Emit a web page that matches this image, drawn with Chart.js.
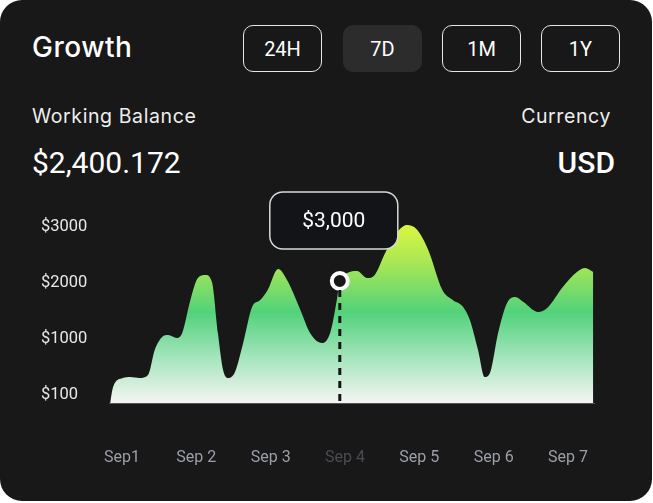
<!DOCTYPE html>
<html>
<head>
<meta charset="utf-8">
<script src="https://cdn.jsdelivr.net/npm/chart.js@4.4.0/dist/chart.umd.min.js"></script>
<style>
  body { margin: 0; background: #fff; width: 653px; height: 503px; overflow: hidden; }
  .card { position: absolute; left: 0; top: 0; width: 652px; height: 501px; background: #181818; border-radius: 22px; }
  .title { position: absolute; left: 32px; top: 30px; font: 500 28px Inter, sans-serif; color: #fff; letter-spacing: 0.5px; }
  .btn { position: absolute; top: 25px; width: 79px; height: 47px; border: 1.6px solid #e6e6e6; border-radius: 10px;
         color: #fff; font: 400 20px Roboto, sans-serif; display: flex; align-items: center; justify-content: center; box-sizing: border-box; }
  .btn.active { border-color: #2c2c2c; background: #2c2c2c; }
  .label { position: absolute; top: 104px; font: 400 19.5px Inter, sans-serif; color: #eee; letter-spacing: 0.6px; }
  .big { position: absolute; top: 145px; font: 400 30px Roboto, sans-serif; color: #fff; }
  #wrap { position: absolute; left: 0; top: 180px; width: 653px; height: 320px; }
</style>
</head>
<body>
<div class="card">
  <div class="title">Growth</div>
  <div class="btn" style="left:243px">24H</div>
  <div class="btn active" style="left:343px">7D</div>
  <div class="btn" style="left:442px">1M</div>
  <div class="btn" style="left:541px">1Y</div>
  <div class="label" style="left:32px">Working Balance</div>
  <div class="label" style="right:41px">Currency</div>
  <div class="big" style="left:32px">$2,400.172</div>
  <div class="big" style="right:37px;font-weight:500">USD</div>
</div>
<div id="wrap"><canvas id="growth-chart"></canvas></div>
<script>
// x = day offset from Sep 1, y = balance
const dayLabels = ['Sep1', 'Sep 2', 'Sep 3', 'Sep 4', 'Sep 5', 'Sep 6', 'Sep 7'];
const yTicks = [0, 1000, 2000, 3000];
const yTickLabels = ['$100', '$1000', '$2000', '$3000'];
const dayPos = [-0.16, -0.12, 0.01, 0.11, 0.24, 0.35, 0.44, 0.54, 0.62, 0.74, 0.81, 0.92, 1.02, 1.12, 1.21, 1.29,
  1.36, 1.43, 1.52, 1.63, 1.75, 1.86, 1.96, 2.10, 2.22, 2.40, 2.53, 2.69, 2.80, 2.89, 2.93, 3.03, 3.16, 3.30,
  3.40, 3.54, 3.65, 3.83, 3.97, 4.12, 4.31, 4.45, 4.59, 4.68, 4.79, 4.88, 4.95, 5.06, 5.18, 5.29, 5.40, 5.60,
  5.72, 5.93, 6.12, 6.23, 6.34];
const balance = [-150, 136, 297, 315, 297, 350, 797, 1030, 1065, 1012, 1101, 1691, 2084, 2138, 2013, 1101,
  440, 297, 404, 922, 1566, 1691, 1870, 2245, 2049, 1512, 1101, 922, 1101, 1691, 2031, 2174, 2209, 2084,
  2138, 2531, 2799, 3030, 2945, 2585, 1870, 1691, 1566, 1334, 797, 315, 386, 1101, 1637, 1745, 1655, 1477,
  1548, 1923, 2192, 2263, 2192];
const selectedDay = 2.93;
const selectedValue = 2031;
const tooltipText = '$3,000';

const points = dayPos.map((d, i) => ({ x: d, y: balance[i] }));

function areaGradient(context) {
  const area = context.chart.chartArea;
  if (!area) return '#52d27c';
  const g = context.chart.ctx.createLinearGradient(0, area.top, 0, area.bottom);
  g.addColorStop(0.0, '#e2f73a');
  g.addColorStop(0.1, '#d6f443');
  g.addColorStop(0.28, '#a6e755');
  g.addColorStop(0.53, '#52d27b');
  g.addColorStop(0.78, '#a9e6c0');
  g.addColorStop(1.0, '#f5f5f2');
  return g;
}

// dashed line under the marker and the value box above it
const markerPlugin = {
  id: 'marker',
  afterDatasetsDraw(chart) {
    const ctx = chart.ctx;
    const xs = chart.scales.x, ys = chart.scales.y;
    const px = xs.getPixelForValue(selectedDay);
    const py = ys.getPixelForValue(selectedValue);
    ctx.save();
    ctx.strokeStyle = '#141414';
    ctx.lineWidth = 3;
    ctx.setLineDash([7, 6]);
    ctx.beginPath();
    ctx.moveTo(px, py + 9);
    ctx.lineTo(px, chart.chartArea.bottom);
    ctx.stroke();
    ctx.setLineDash([]);

    const w = 128, h = 57;
    const bx = px - 70, by = py - 89;
    ctx.fillStyle = '#121417';
    ctx.strokeStyle = '#d8d8d8';
    ctx.lineWidth = 1.5;
    ctx.beginPath();
    ctx.roundRect(bx, by, w, h, 13);
    ctx.fill();
    ctx.stroke();
    ctx.fillStyle = '#fff';
    ctx.font = '400 21px Roboto, sans-serif';
    ctx.textAlign = 'center';
    ctx.textBaseline = 'middle';
    ctx.fillText(tooltipText, bx + w / 2, by + h / 2 + 1);
    ctx.restore();
  }
};

new Chart(document.getElementById('growth-chart'), {
  type: 'line',
  data: {
    datasets: [{
      data: points,
      fill: 'start',
      backgroundColor: areaGradient,
      borderWidth: 0,
      pointRadius: 0,
      cubicInterpolationMode: 'monotone',
      order: 2
    }, {
      data: [{ x: selectedDay, y: selectedValue }],
      showLine: false,
      pointRadius: 8,
      pointBorderWidth: 4,
      pointBorderColor: '#fff',
      pointBackgroundColor: '#181818',
      order: 1
    }]
  },
  options: {
    responsive: true,
    maintainAspectRatio: false,
    animation: false,
    layout: { padding: { left: 41, right: 59, top: 30, bottom: 0 } },
    plugins: { legend: { display: false }, tooltip: { enabled: false } },
    scales: {
      x: {
        type: 'linear',
        min: -0.175,
        max: 6.35,
        grid: { display: false, drawTicks: false },
        border: { display: true, color: '#555', width: 1 },
        afterBuildTicks: s => { s.ticks = dayLabels.map((_, i) => ({ value: i })); },
        afterFit: s => { s.height = 97; },
        ticks: {
          padding: 45,
          autoSkip: false,
          maxRotation: 0,
          font: { family: 'Roboto', size: 16 },
          color: c => c.index === 3 ? '#4a4c52' : '#9c9ea8',
          callback: v => dayLabels[v]
        }
      },
      y: {
        min: -150,
        max: 3300,
        grid: { display: false, drawTicks: false },
        border: { display: false },
        afterBuildTicks: s => { s.ticks = yTicks.map(v => ({ value: v })); },
        afterFit: s => { s.width = 68; },
        ticks: {
          crossAlign: 'far',
          padding: 0,
          font: { family: 'Roboto', size: 16.5 },
          color: '#e8e8e8',
          callback: (v, i) => yTickLabels[i]
        }
      }
    }
  },
  plugins: [markerPlugin]
});
</script>
</body>
</html>
